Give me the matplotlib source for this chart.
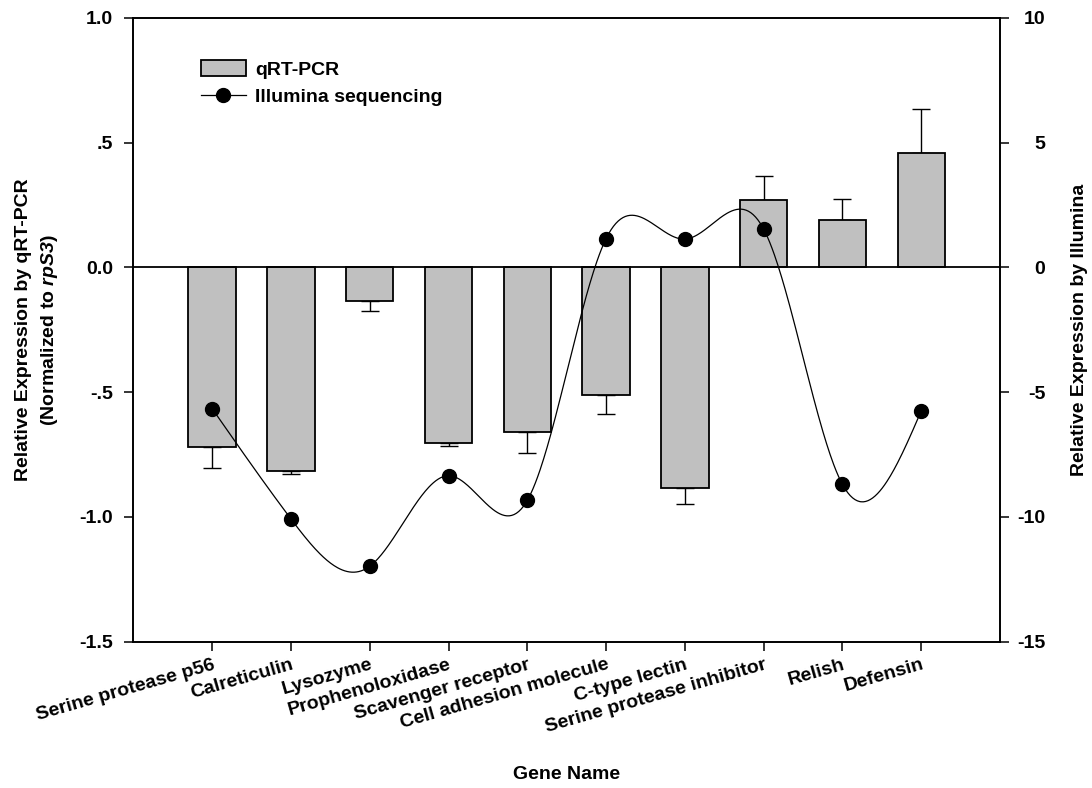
import matplotlib
matplotlib.use("Agg")
import matplotlib.pyplot as plt
import numpy as np
from matplotlib.lines import Line2D
from matplotlib.patches import Patch

plt.rcParams["font.family"] = ["Liberation Sans", "DejaVu Sans"]
plt.rcParams["font.weight"] = "bold"
plt.rcParams["axes.unicode_minus"] = False
plt.rcParams["mathtext.fontset"] = "custom"
plt.rcParams["mathtext.rm"] = "Liberation Sans:bold"
plt.rcParams["mathtext.bfit"] = "Liberation Sans:bold:italic"

genes = ["Serine protease p56", "Calreticulin", "Lysozyme", "Prophenoloxidase",
         "Scavenger receptor", "Cell adhesion molecule", "C-type lectin",
         "Serine protease inhibitor", "Relish", "Defensin"]
qpcr = [-0.718, -0.816, -0.134, -0.702, -0.658, -0.513, -0.883, 0.269, 0.189, 0.457]
qpcr_err = [0.088, 0.014, 0.042, 0.014, 0.085, 0.073, 0.065, 0.097, 0.083, 0.176]
illumina = [-5.66, -10.08, -11.98, -8.35, -9.34, 1.15, 1.13, 1.53, -8.70, -5.75]


def natural_spline(x, y, n=600):
    # natural cubic spline, like the "spline curve" line type
    x = np.asarray(x, float)
    y = np.asarray(y, float)
    k = len(x)
    h = np.diff(x)
    A = np.zeros((k, k))
    b = np.zeros(k)
    A[0, 0] = 1
    A[-1, -1] = 1
    for i in range(1, k - 1):
        A[i, i - 1] = h[i - 1]
        A[i, i] = 2 * (h[i - 1] + h[i])
        A[i, i + 1] = h[i]
        b[i] = 6 * ((y[i + 1] - y[i]) / h[i] - (y[i] - y[i - 1]) / h[i - 1])
    M = np.linalg.solve(A, b)
    xs = np.linspace(x[0], x[-1], n)
    idx = np.clip(np.searchsorted(x, xs) - 1, 0, k - 2)
    x0, x1 = x[idx], x[idx + 1]
    hh = x1 - x0
    t0, t1 = x1 - xs, xs - x0
    ys = (M[idx] * t0**3 + M[idx + 1] * t1**3) / (6 * hh) \
        + (y[idx] / hh - M[idx] * hh / 6) * t0 + (y[idx + 1] / hh - M[idx + 1] * hh / 6) * t1
    return xs, ys


pos = np.arange(len(genes))
qpcr = np.array(qpcr)
qpcr_err = np.array(qpcr_err)
lower = np.where(qpcr < 0, qpcr_err, 0)
upper = np.where(qpcr >= 0, qpcr_err, 0)
fs = 14

fig = plt.figure(figsize=(10.92, 7.88), dpi=100)
ax = fig.add_axes([0.1221, 0.1857, 0.7937, 0.7918])

ax.bar(pos, qpcr, width=0.6, color="#c0c0c0", edgecolor="black", linewidth=1.3, zorder=2)
ax.errorbar(pos, qpcr, yerr=[lower, upper], fmt="none", ecolor="black",
            elinewidth=1.0, capsize=6.7, capthick=1.0, zorder=1)
ax.axhline(0, color="black", linewidth=1.3, zorder=3)

ax.set_xlim(-1, 10)
ax.set_ylim(-1.5, 1.0)
ax.set_yticks([1.0, 0.5, 0.0, -0.5, -1.0, -1.5])
ax.set_yticklabels(["1.0", ".5", "0.0", "-.5", "-1.0", "-1.5"])
ax.set_xticks(pos)
ax.set_xticklabels(genes, rotation=16, ha="right", va="top", rotation_mode="anchor")
ax.tick_params(axis="both", direction="out", length=6.5, width=1.1, labelsize=fs)
ax.tick_params(axis="y", pad=8)
ax.tick_params(axis="x", pad=4)
for s in ax.spines.values():
    s.set_linewidth(1.2)

ax.set_ylabel("Relative Expression by qRT-PCR\n(Normalized to $\\mathbfit{rpS3}$)", fontsize=fs,
              fontweight="bold", linespacing=1.45)
ax.yaxis.set_label_coords(-0.0846, 0.5)
ax.set_xlabel("Gene Name", fontsize=fs, fontweight="bold")
ax.xaxis.set_label_coords(0.5, -0.199)

ax2 = ax.twinx()
xs, ys = natural_spline(pos, illumina)
ax2.plot(xs, ys, color="black", linewidth=0.9, zorder=3)
ax2.plot(pos, illumina, linestyle="none", marker="o", markersize=10,
         color="black", zorder=4)
ax2.set_ylim(-15, 10)
ax2.set_yticks([10, 5, 0, -5, -10, -15])
ax2.tick_params(axis="y", direction="out", length=6.5, width=1.1, labelsize=fs, pad=26)
for lab in ax2.get_yticklabels():
    lab.set_ha("right")
for s in ax2.spines.values():
    s.set_linewidth(1.2)
ax2.set_ylabel("Relative Expression by Illumina", fontsize=fs, fontweight="bold",
               rotation=90)
ax2.yaxis.set_label_coords(1.082, 0.5)

handles = [Patch(facecolor="#c0c0c0", edgecolor="black", linewidth=1.3),
           Line2D([], [], color="black", linewidth=0.9, marker="o", markersize=10)]
ax2.legend(handles, ["qRT-PCR", "Illumina sequencing"], loc="upper left",
           bbox_to_anchor=(0.078, 0.932), frameon=False, fontsize=fs,
           handlelength=2.3, handleheight=0.9, handletextpad=0.5, labelspacing=0.45,
           borderaxespad=0, borderpad=0)

fig.savefig("out.png", dpi=100)
